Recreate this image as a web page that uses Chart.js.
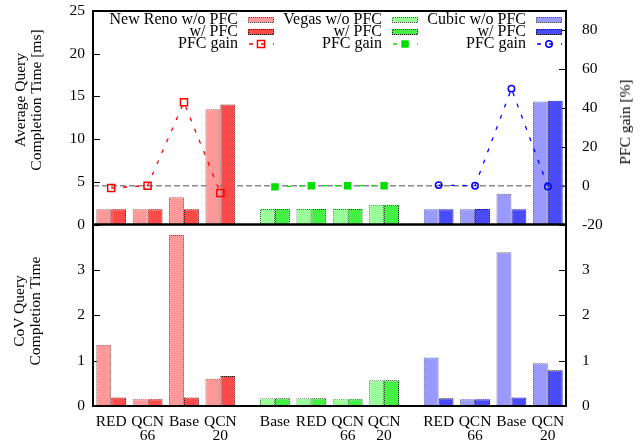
<!DOCTYPE html>
<html>
<head>
<meta charset="utf-8">
<title>Query completion time with and without PFC</title>
<script src="https://cdn.jsdelivr.net/npm/chart.js@4.4.1/dist/chart.umd.min.js"></script>
<style>
  body { margin: 0; background: #fff; }
  #fig { position: relative; width: 643px; height: 445px; font-family: "Liberation Serif", "Times New Roman", serif; color: #000; }
  #fig canvas { position: absolute; left: 0; }
  #avg { top: 0; }
  #cov { top: 214px; }
  .axis-title { position: absolute; font-size: 15.5px; line-height: 16px; text-align: center; white-space: nowrap; transform: translate(-50%, -50%) rotate(-90deg); }
</style>
</head>
<body>
<div id="fig">
  <canvas id="avg" width="643" height="234"></canvas>
  <canvas id="cov" width="643" height="231"></canvas>
  <div class="axis-title" style="left:28px; top:100px">Average Query<br>Completion Time [ms]</div>
  <div class="axis-title" style="left:27px; top:311px">CoV Query<br>Completion Time</div>
  <div class="axis-title" style="left:625px; top:122px">PFC gain [%]</div>
</div>
<script>
const protocols = ['New Reno', 'Vegas', 'Cubic'];
const schemes = [
  ['RED', 'QCN 66', 'Base', 'QCN 20'],
  ['Base', 'RED', 'QCN 66', 'QCN 20'],
  ['RED', 'QCN 66', 'Base', 'QCN 20']
];

// average query completion time [ms]
const avgNoPfc = [[1.78, 1.8, 3.2, 13.5], [1.82, 1.82, 1.82, 2.3], [1.8, 1.8, 3.6, 14.4]];
const avgPfc   = [[1.8, 1.8, 1.8, 14.05], [1.82, 1.82, 1.82, 2.3], [1.8, 1.82, 1.78, 14.5]];

// PFC gain [%]
const pfcGain = [[-1.2, 0, 43, -3.8], [-0.6, 0, 0, 0], [0.3, 0, 50, -0.4]];
const gainBaseline = 0;

// CoV of query completion time
const covNoPfc = [[1.35, 0.15, 3.77, 0.6], [0.17, 0.17, 0.15, 0.57], [1.07, 0.15, 3.39, 0.94]];
const covPfc   = [[0.19, 0.15, 0.19, 0.66], [0.17, 0.17, 0.15, 0.57], [0.17, 0.15, 0.19, 0.79]];

const lightFill = ['#ff9999', '#99ff99', '#9999ff'];
const darkFill  = ['#ff4a4a', '#44f044', '#4a4aff'];
const gainColor = ['#ff0000', '#00e000', '#0000ff'];
const gainMarker = [
  { style: 'rect', radius: 5, filled: false },
  { style: 'rect', radius: 4.2, filled: true },
  { style: 'circle', radius: 3.2, filled: false }
];

Chart.defaults.font.family = '"Liberation Serif", "Times New Roman", serif';
Chart.defaults.color = '#000';

// four bars per protocol, half a slot of air between protocols
const slotX = (g, i) => g * 4.5 + i;
const slots = schemes.flatMap((row, g) => row.map((s, i) => slotX(g, i)));
const tickText = schemes.flat().map(s => s.split(' '));
const xMin = -0.5;
const xMax = slots[slots.length - 1] + 0.5;

const points = rows => rows.flatMap((row, g) => row.map((v, i) => ({ x: slotX(g, i), y: v })));
const perBar = colors => schemes.flatMap((row, g) => row.map(() => colors[g]));

// 1px checker so bar outlines come out dotted
function dotted(fill, ink) {
  const c = document.createElement('canvas');
  c.width = c.height = 2;
  const g = c.getContext('2d');
  g.fillStyle = fill;
  g.fillRect(0, 0, 2, 2);
  g.fillStyle = ink;
  g.fillRect(0, 0, 1, 1);
  g.fillRect(1, 1, 1, 1);
  return g.createPattern(c, 'repeat');
}
const lightEdge = lightFill.map(c => dotted(c, '#555'));
const darkEdge = darkFill.map(c => dotted(c, '#111'));

function barSets(noPfc, pfc) {
  const common = { order: 1, borderWidth: 1, categoryPercentage: 0.82, barPercentage: 1 };
  return [
    { ...common, label: 'w/o PFC', data: points(noPfc),
      backgroundColor: perBar(lightFill), borderColor: perBar(lightEdge) },
    { ...common, label: 'w/ PFC', data: points(pfc),
      backgroundColor: perBar(darkFill), borderColor: perBar(darkEdge) }
  ];
}

const gainSets = protocols.map((p, g) => ({
  type: 'line',
  label: p + ' PFC gain',
  yAxisID: 'gain',
  order: 0,
  data: pfcGain[g].map((v, i) => ({ x: slotX(g, i), y: v })),
  borderColor: gainColor[g],
  borderWidth: 1.3,
  borderDash: [4, 8],
  tension: 0,
  pointStyle: gainMarker[g].style,
  pointRadius: gainMarker[g].radius,
  pointBorderWidth: 1.5,
  pointBorderColor: gainColor[g],
  pointBackgroundColor: gainMarker[g].filled ? gainColor[g] : 'rgba(0,0,0,0)'
}));

// gray dashed zero-gain reference, drawn underneath the bars
const refLine = {
  type: 'line',
  yAxisID: 'gain',
  order: 2,
  data: [{ x: xMin, y: gainBaseline }, { x: xMax, y: gainBaseline }],
  borderColor: '#888',
  borderWidth: 1.5,
  borderDash: [6, 3],
  pointRadius: 0
};

// labels may overhang the plot edges; don't let them shrink the plot
function noOverhang(s) {
  s.paddingTop = s.paddingBottom = s.paddingLeft = s.paddingRight = 0;
}

function xAxis(showLabels) {
  return {
    type: 'linear',
    min: xMin,
    max: xMax,
    offset: false,
    display: showLabels,
    grid: { display: false, drawTicks: false },
    border: { display: false },
    afterBuildTicks: s => { s.ticks = slots.map(v => ({ value: v })); },
    afterFit: s => {
      noOverhang(s);
      if (showLabels) s.height = 39;
    },
    ticks: {
      autoSkip: false, maxRotation: 0, minRotation: 0, padding: 9,
      font: { size: 15.5, lineHeight: '14px' },
      callback: (v, i) => tickText[i]
    }
  };
}

function yAxis(position, min, max, stepSize, lastLabel) {
  const left = position === 'left';
  return {
    type: 'linear',
    position, min, max,
    grid: { display: false, drawTicks: false },
    border: { display: false },
    afterFit: s => {
      noOverhang(s);
      s.width = left ? 93 : 77;
    },
    ticks: {
      stepSize, includeBounds: false,
      padding: left ? 8 : 16,
      font: { size: 15.5, lineHeight: 1 },
      callback: v => (v <= lastLabel ? v : '')
    }
  };
}

// tick marks pointing into the plot
const innerTicks = {
  id: 'innerTicks',
  beforeDatasetsDraw(chart) {
    const { ctx, chartArea: a } = chart;
    ctx.save();
    ctx.strokeStyle = '#000';
    ctx.lineWidth = 1;
    Object.values(chart.scales).forEach(s => {
      if (s.axis !== 'y') return;
      const x0 = s.position === 'left' ? a.left : a.right;
      const dir = s.position === 'left' ? 1 : -1;
      s.ticks.forEach(t => {
        const y = Math.round(s.getPixelForValue(t.value)) + 0.5;
        ctx.beginPath();
        ctx.moveTo(x0, y);
        ctx.lineTo(x0 + dir * 7, y);
        ctx.stroke();
      });
    });
    ctx.restore();
  }
};

const frame = {
  id: 'frame',
  afterDraw(chart) {
    const { ctx, chartArea: a } = chart;
    ctx.save();
    ctx.strokeStyle = '#000';
    ctx.lineWidth = 2;
    ctx.strokeRect(a.left, a.top, a.right - a.left, a.bottom - a.top);
    ctx.restore();
  }
};

// three-column key: text right-aligned in front of its sample
const legendBox = {
  id: 'legendBox',
  afterDraw(chart) {
    const { ctx, chartArea: a } = chart;
    const rows = [a.top + 9, a.top + 21, a.top + 33];
    ctx.save();
    ctx.font = '16px "Liberation Serif", "Times New Roman", serif';
    ctx.textAlign = 'right';
    ctx.textBaseline = 'middle';
    protocols.forEach((p, g) => {
      const x = a.left + 155 + 144 * g;
      ctx.fillStyle = '#000';
      ctx.fillText(p + ' w/o PFC', x - 10, rows[0]);
      ctx.fillText('w/ PFC', x - 10, rows[1]);
      ctx.fillText('PFC gain', x - 10, rows[2]);

      [[lightEdge, lightFill], [darkEdge, darkFill]].forEach(([edge, fill], r) => {
        const y = Math.round(rows[r]) - 3;
        ctx.fillStyle = edge[g];
        ctx.fillRect(x, y, 26, 6);
        ctx.fillStyle = fill[g];
        ctx.fillRect(x + 1, y + 1, 24, 4);
      });

      ctx.strokeStyle = gainColor[g];
      ctx.lineWidth = 1.3;
      ctx.setLineDash([4, 8]);
      ctx.beginPath();
      ctx.moveTo(x + 1, rows[2]);
      ctx.lineTo(x + 26, rows[2]);
      ctx.stroke();
      ctx.setLineDash([]);
      ctx.lineWidth = 1.5;
      ctx.fillStyle = gainMarker[g].filled ? gainColor[g] : 'rgba(0,0,0,0)';
      Chart.helpers.drawPoint(ctx, {
        pointStyle: gainMarker[g].style, radius: gainMarker[g].radius, borderWidth: 1.5, rotation: 0
      }, x + 13, rows[2]);
    });
    ctx.restore();
  }
};

const baseOptions = {
  responsive: false,
  animation: false,
  plugins: { legend: { display: false }, tooltip: { enabled: false } }
};

new Chart(document.getElementById('avg'), {
  type: 'bar',
  data: { datasets: [refLine, ...barSets(avgNoPfc, avgPfc), ...gainSets] },
  options: {
    ...baseOptions,
    layout: { padding: { top: 11, bottom: 9.5, left: 0, right: 0 }, autoPadding: false },
    scales: {
      x: xAxis(false),
      y: yAxis('left', 0, 25, 5, 25),
      gain: yAxis('right', -20, 90, 20, 80)
    }
  },
  plugins: [innerTicks, frame, legendBox]
});

new Chart(document.getElementById('cov'), {
  type: 'bar',
  data: { datasets: barSets(covNoPfc, covPfc) },
  options: {
    ...baseOptions,
    layout: { padding: { top: 10.5, bottom: 0, left: 0, right: 0 }, autoPadding: false },
    scales: {
      x: xAxis(true),
      y: yAxis('left', 0, 4, 1, 3),
      yR: yAxis('right', 0, 4, 1, 3)
    }
  },
  plugins: [innerTicks, frame]
});
</script>
</body>
</html>
